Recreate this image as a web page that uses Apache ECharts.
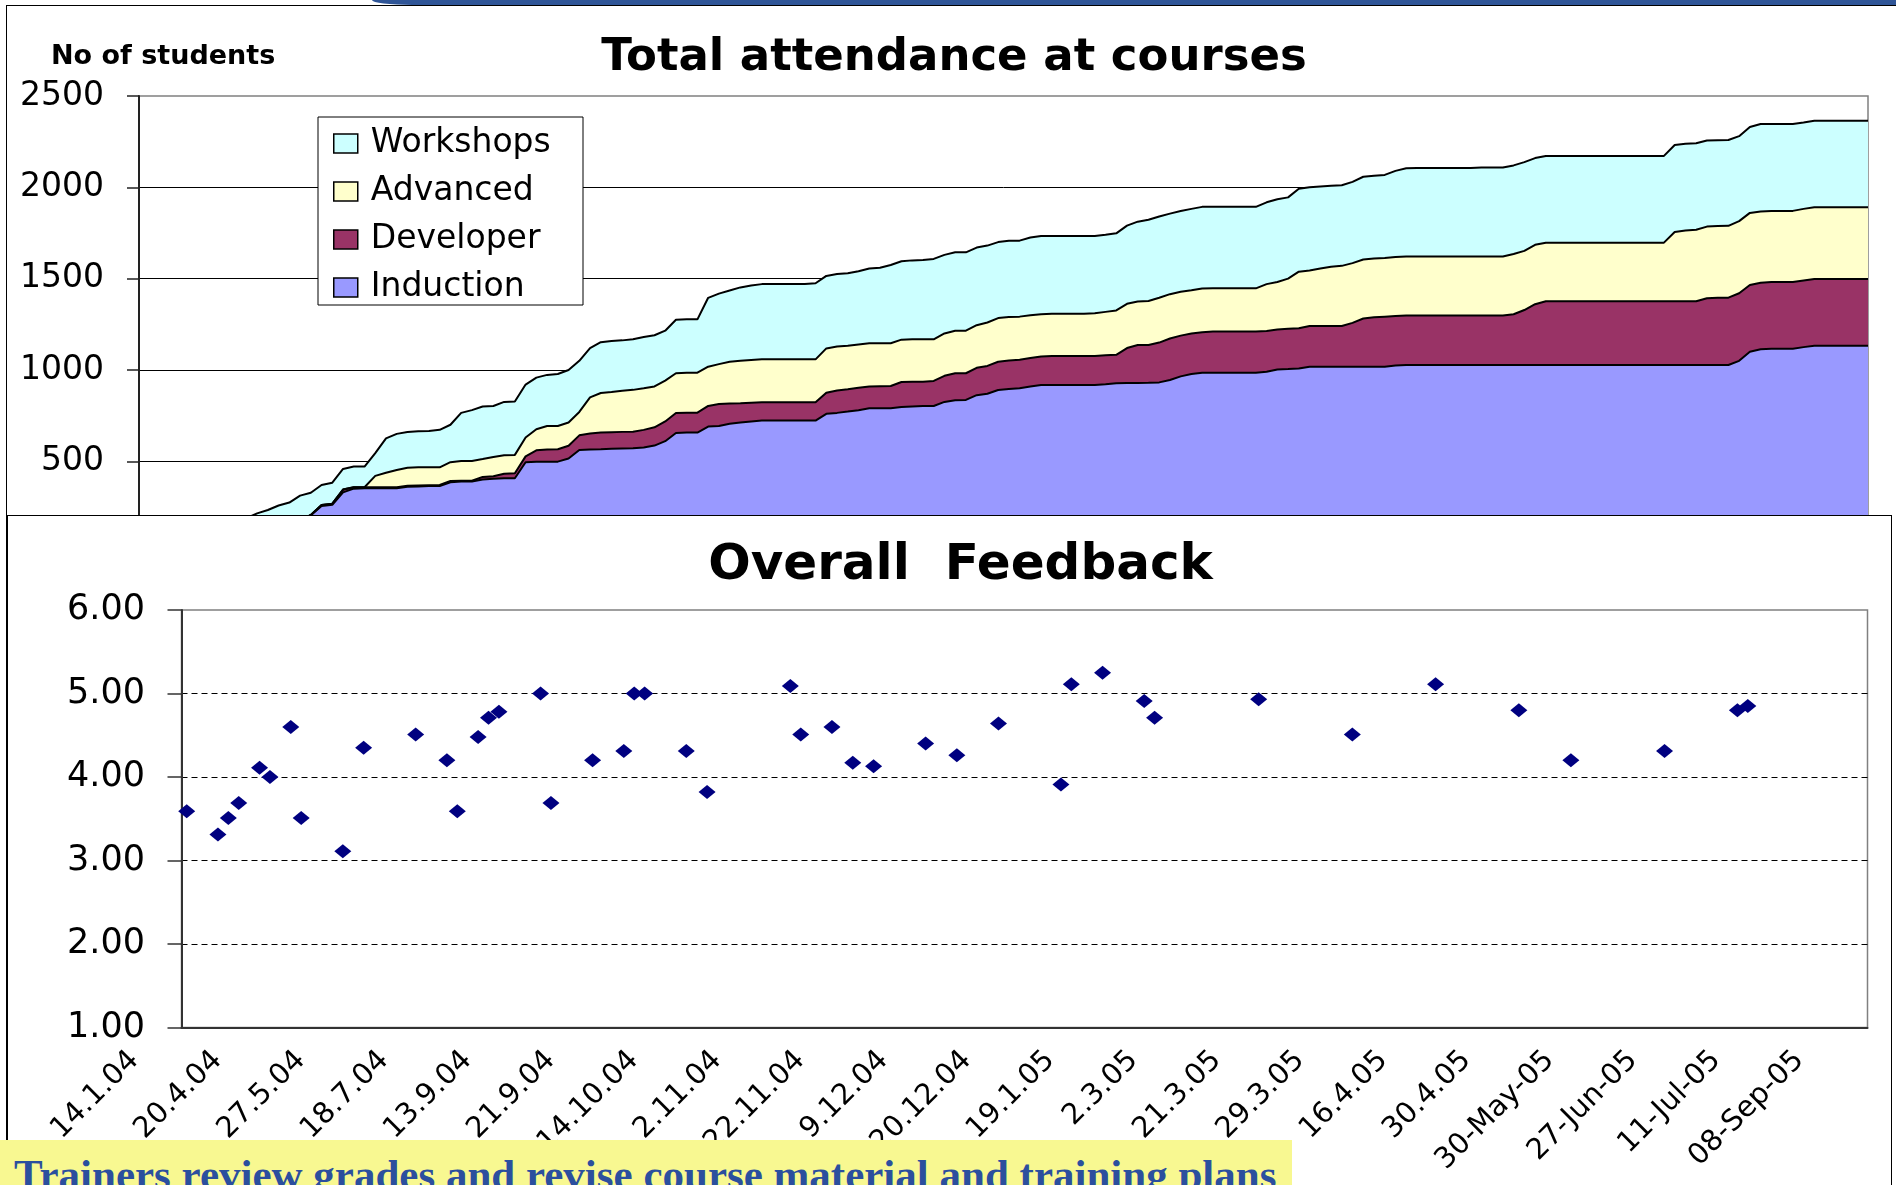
<!DOCTYPE html>
<html><head><meta charset="utf-8">
<script src="https://cdn.jsdelivr.net/npm/echarts@6/dist/echarts.min.js"></script>
<style>
html,body{margin:0;padding:0;width:1896px;height:1185px;overflow:hidden;background:#fff;position:relative;}
#band{position:absolute;left:372px;top:0;width:1600px;height:5px;background:#2f5597;border-bottom-left-radius:40px 5px;}
#frame1{position:absolute;left:6px;top:5px;width:1960px;height:1300px;border:1.5px solid #000;}
#chart1{position:absolute;left:0;top:0;width:1896px;height:1185px;}
#box2{position:absolute;left:7px;top:515px;width:1883px;height:700px;border:1.5px solid #000;background:#fff;}
#chart2{position:absolute;left:0;top:0;width:1883px;height:700px;}
#banner{position:absolute;left:0;top:1140px;width:1292px;height:60px;background:#f8f891;}
#banner span{position:absolute;left:14px;top:13px;font:bold 43px/43px 'Liberation Serif','Times New Roman',serif;color:#2b4f9e;white-space:nowrap;}
</style></head>
<body>
<div id="band"></div>
<div id="frame1"></div>
<div id="chart1"></div>
<div id="box2"><div id="chart2"></div></div>
<div id="banner"><span>Trainers review grades and revise course material and training plans</span></div>
<script>
// ---- data ----
const tickLabels = ['14.1.04','20.4.04','27.5.04','18.7.04','13.9.04','21.9.04','14.10.04','2.11.04','22.11.04','9.12.04','20.12.04','19.1.05','2.3.05','21.3.05','29.3.05','16.4.05','30.4.05','30-May-05','27-Jun-05','11-Jul-05','08-Sep-05'];
const courseCount = 162;     // number of courses on the category axis
const labelEvery = 8;        // a date label every 8 courses

// cumulative attendance, top edge of each band
const workshopsTop = [
18,32,48,60,78,95,112,130,148,166,
188,215,233,258,274,312,328,370,383,458,
471,471,545,625,650,660,664,666,672,700,
765,780,800,803,825,827,920,958,973,978,
1000,1050,1120,1152,1158,1162,1168,1180,1190,1215,
1275,1277,1277,1395,1418,1435,1452,1462,1470,1471,
1471,1471,1471,1475,1515,1525,1529,1540,1556,1560,
1575,1595,1600,1602,1608,1630,1644,1644,1670,1681,
1700,1708,1708,1725,1734,1734,1734,1734,1734,1734,
1740,1748,1790,1812,1822,1840,1856,1870,1882,1893,
1893,1893,1893,1893,1893,1918,1935,1945,1992,2000,
2005,2008,2011,2030,2058,2063,2068,2090,2104,2106,
2106,2106,2106,2106,2106,2108,2108,2108,2120,2138,
2160,2172,2172,2172,2172,2172,2172,2172,2172,2172,
2172,2172,2172,2232,2238,2241,2256,2258,2259,2280,
2330,2347,2347,2347,2347,2355,2365,2365,2365,2365,
2365,2365];
const advancedTop = [
10,18,25,30,40,45,55,62,70,78,
88,100,112,130,150,175,206,261,268,345,
358,358,420,437,452,465,467,467,467,495,
502,502,512,524,533,535,630,675,693,693,
712,770,850,874,879,886,891,900,910,942,
982,985,985,1018,1032,1045,1050,1055,1058,1058,
1058,1058,1058,1058,1118,1128,1133,1140,1146,1146,
1146,1166,1168,1168,1168,1200,1215,1215,1245,1260,
1284,1290,1292,1300,1305,1308,1308,1308,1308,1310,
1318,1326,1362,1375,1378,1395,1415,1428,1436,1446,
1447,1447,1447,1447,1447,1470,1482,1500,1538,1544,
1555,1565,1570,1585,1605,1610,1613,1618,1621,1621,
1621,1621,1621,1621,1621,1621,1621,1621,1635,1652,
1685,1697,1697,1697,1697,1697,1697,1697,1697,1697,
1697,1697,1697,1755,1763,1768,1785,1788,1789,1815,
1860,1868,1871,1871,1871,1882,1891,1891,1891,1891,
1891,1891];
const developerTop = [
10,18,25,30,40,45,55,62,70,78,
88,100,112,130,150,175,206,261,268,345,
358,358,358,358,358,366,368,369,370,392,
394,394,414,418,432,434,527,560,564,566,
585,642,652,657,659,661,662,672,686,718,
764,766,766,803,814,816,818,821,823,823,
823,823,823,823,875,888,894,902,909,911,
912,934,936,936,940,968,982,982,1012,1022,
1045,1052,1056,1066,1074,1077,1077,1077,1077,1077,
1080,1083,1120,1137,1137,1150,1172,1188,1200,1206,
1210,1210,1210,1210,1210,1213,1222,1225,1228,1241,
1241,1241,1241,1258,1282,1288,1292,1296,1298,1298,
1298,1298,1298,1298,1298,1298,1298,1298,1305,1328,
1360,1376,1376,1376,1376,1376,1376,1376,1376,1376,
1376,1376,1376,1376,1376,1376,1393,1395,1396,1420,
1465,1478,1482,1482,1482,1490,1498,1498,1498,1498,
1498,1498];
const inductionTop = [
10,18,25,30,40,45,55,62,70,78,
88,100,112,130,150,175,205,255,262,330,
350,352,352,352,352,360,362,364,365,385,
389,389,400,404,407,407,495,498,498,498,
515,562,565,566,568,570,571,575,586,610,
655,657,657,690,693,705,712,718,723,723,
723,723,723,723,760,765,772,780,790,790,
790,797,800,802,803,825,834,836,862,870,
890,896,900,910,918,918,918,918,918,918,
922,927,928,929,930,932,945,965,978,985,
985,985,985,985,985,990,1003,1005,1008,1018,
1018,1018,1018,1018,1018,1018,1018,1025,1027,1027,
1027,1027,1027,1027,1027,1027,1027,1027,1027,1027,
1027,1027,1027,1027,1027,1027,1027,1027,1027,1027,
1027,1027,1027,1027,1027,1027,1027,1027,1027,1050,
1100,1113,1116,1116,1116,1125,1133,1133,1133,1133,
1133,1133];

// overall feedback: course position and score
const feedbackCourse = [0,3,4,5,7,8,10,11,15,17,22,25,26,28,29,30,34,35,39,42,43,44,48,50,58,59,62,64,66,71,74,78,84,85,88,92,93,103,112,120,128,133,142,149,150];
const feedbackScore = [3.59,3.31,3.51,3.69,4.11,4.00,4.60,3.51,3.11,4.35,4.51,4.20,3.59,4.48,4.71,4.78,5.00,3.69,4.20,4.31,5.00,5.00,4.31,3.82,5.09,4.51,4.60,4.17,4.13,4.40,4.26,4.64,3.91,5.11,5.25,4.91,4.71,4.93,4.51,5.11,4.80,4.20,4.31,4.80,4.85];

// ---- build ----
const courseLabels = [];
for (let i = 0; i < courseCount; i++) courseLabels.push(i % labelEvery === 0 ? (tickLabels[i / labelEvery] || '') : '');

const font = "'DejaVu Sans', sans-serif";
const layer = (name, data, fill) => ({
  name, type: 'line', data, symbol: 'none', showSymbol: false, smooth: false,
  itemStyle: { color: fill }, lineStyle: { color: '#000', width: 2 },
  areaStyle: { color: fill, opacity: 1 }, emphasis: { disabled: true }
});

const chart1 = echarts.init(document.getElementById('chart1'));
chart1.setOption({
  animation: false,
  title: [
    { text: 'Total attendance at courses', left: 954, top: 36, textAlign: 'center', padding: 0,
      textStyle: { fontFamily: font, fontWeight: 'bold', fontSize: 45, color: '#000' } },
    { text: 'No of students', left: 51, top: 43, padding: 0,
      textStyle: { fontFamily: font, fontWeight: 'bold', fontSize: 27, color: '#000' } }
  ],
  grid: { left: 139, top: 96, width: 1729, height: 456.6, show: true, borderColor: '#808080', borderWidth: 1.5, backgroundColor: 'transparent' },
  xAxis: { type: 'category', data: courseLabels, boundaryGap: false,
    axisLabel: { show: false }, axisTick: { show: false }, axisLine: { lineStyle: { color: '#000' } } },
  yAxis: { type: 'value', min: 0, max: 2500, interval: 500,
    axisLine: { show: true, lineStyle: { color: '#222', width: 2 } },
    axisTick: { show: true, length: 12, lineStyle: { color: '#222', width: 1.5 } },
    axisLabel: { margin: 35, fontFamily: font, fontSize: 33, color: '#000', formatter: v => String(v) },
    splitLine: { show: true, lineStyle: { color: ['#000', '#000', '#000', '#000', '#000', 'transparent'], width: 1 } } },
  graphic: [{ type: 'rect', z: 5, shape: { x: 318, y: 117, width: 265, height: 188 }, style: { fill: '#fff', stroke: '#000', lineWidth: 1 } }],
  legend: { orient: 'vertical', left: 333, top: 127, padding: 0, itemGap: 15, itemWidth: 24, itemHeight: 19, icon: 'rect', z: 6,
    selectedMode: false,
    textStyle: { fontFamily: font, fontSize: 33, lineHeight: 32, color: '#000', padding: [0, 0, 0, 8] },
    itemStyle: { borderColor: '#000', borderWidth: 1.5 },
    data: [
      { name: 'Workshops', itemStyle: { color: '#CCFFFF', borderColor: '#000', borderWidth: 1.5 } },
      { name: 'Advanced', itemStyle: { color: '#FFFFCC', borderColor: '#000', borderWidth: 1.5 } },
      { name: 'Developer', itemStyle: { color: '#993366', borderColor: '#000', borderWidth: 1.5 } },
      { name: 'Induction', itemStyle: { color: '#9999FF', borderColor: '#000', borderWidth: 1.5 } }
    ] },
  series: [
    layer('Workshops', workshopsTop, '#CCFFFF'),
    layer('Advanced', advancedTop, '#FFFFCC'),
    layer('Developer', developerTop, '#993366'),
    layer('Induction', inductionTop, '#9999FF')
  ]
});

const chart2 = echarts.init(document.getElementById('chart2'));
chart2.setOption({
  animation: false,
  title: { text: 'Overall  Feedback', left: 952.5, top: 25, textAlign: 'center', padding: 0,
    textStyle: { fontFamily: font, fontWeight: 'bold', fontSize: 50, color: '#000' } },
  grid: { left: 173.5, top: 94, width: 1686, height: 417.5, show: true, borderColor: '#808080', borderWidth: 1.5, backgroundColor: 'transparent' },
  xAxis: { type: 'category', data: courseLabels, boundaryGap: true,
    axisLine: { lineStyle: { color: '#333', width: 2 } },
    axisTick: { interval: 0, length: 7, lineStyle: { color: '#444', width: 1 } },
    axisLabel: { interval: 0, rotate: 45, margin: -24, padding: [0, 74, 0, 0], fontFamily: font, fontSize: 29, color: '#000' },
    splitLine: { show: false } },
  yAxis: { type: 'value', min: 1, max: 6, interval: 1,
    axisLine: { show: true, lineStyle: { color: '#333', width: 2 } },
    axisTick: { show: true, length: 14, lineStyle: { color: '#333', width: 1.5 } },
    axisLabel: { margin: 36.5, fontFamily: font, fontSize: 35, color: '#000', formatter: v => v.toFixed(2) },
    splitLine: { show: true, lineStyle: { color: ['transparent', '#000', '#000', '#000', '#000', 'transparent'], type: [6, 4], width: 1 } } },
  series: [{ type: 'scatter', name: 'Overall Feedback',
    data: feedbackCourse.map((c, i) => [c, feedbackScore[i]]),
    symbol: 'diamond', symbolSize: [17, 14], itemStyle: { color: '#000080', opacity: 1 }, emphasis: { disabled: true } }]
});
</script>
</body></html>
